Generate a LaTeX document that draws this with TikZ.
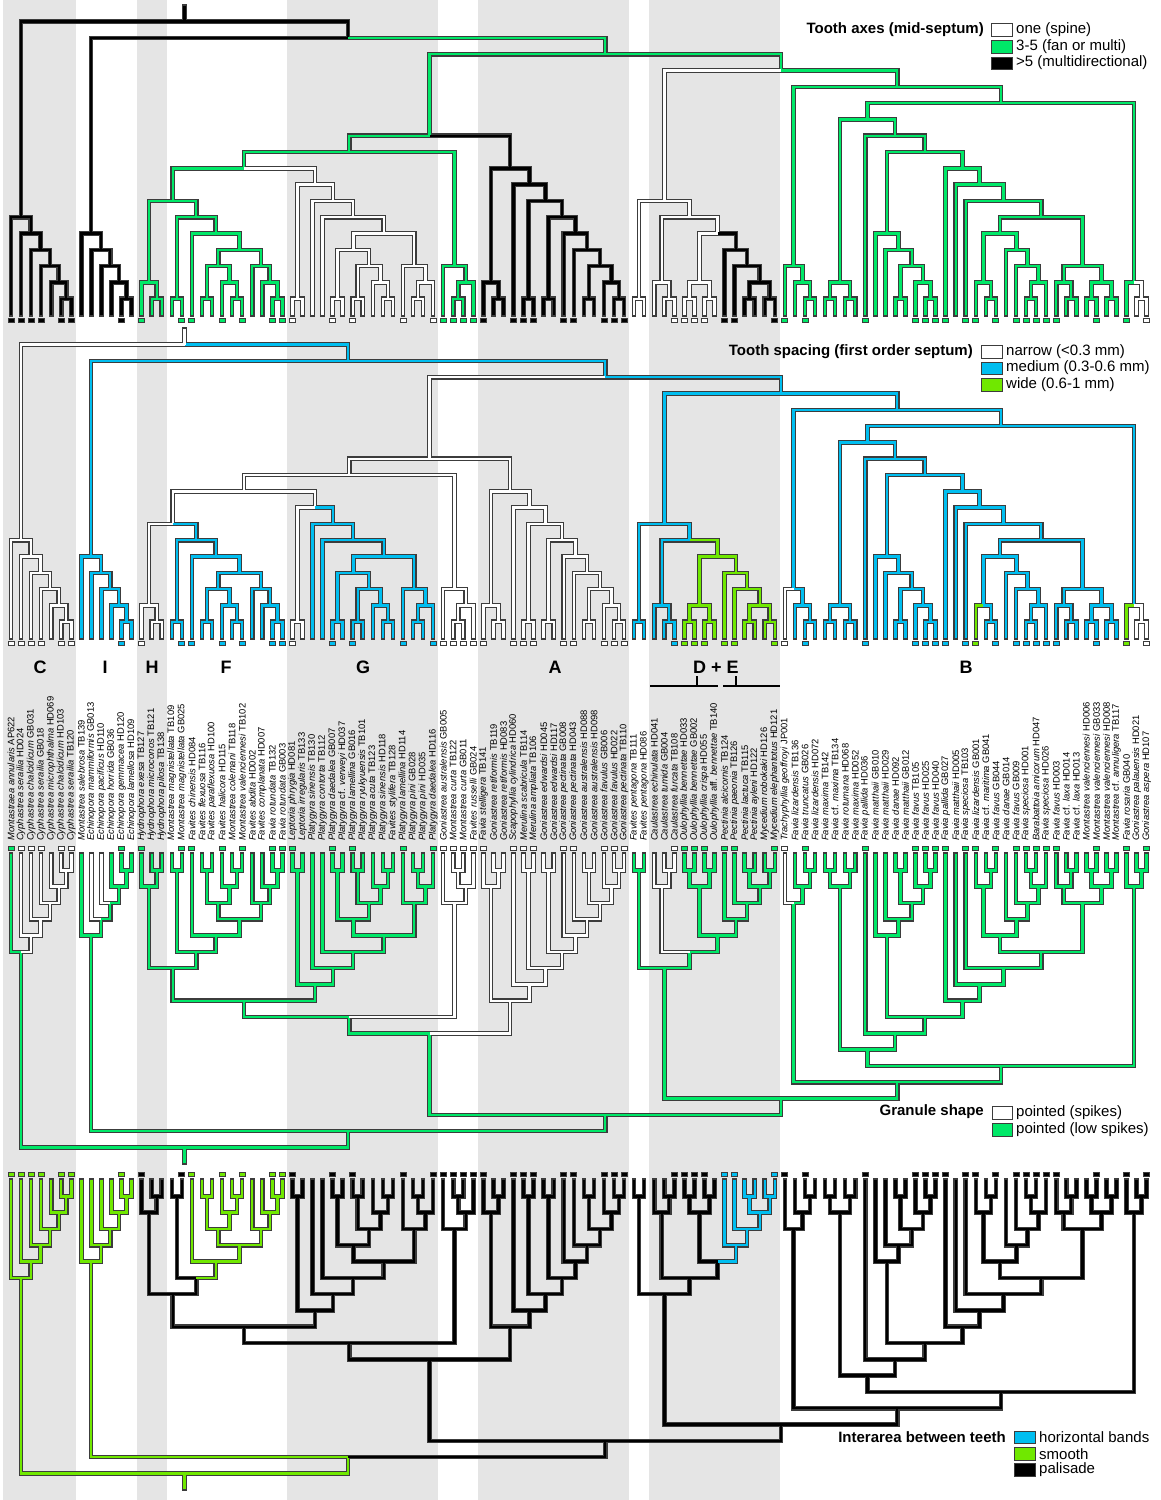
\documentclass[tikz,border=0pt]{standalone}
\usepackage{fontspec}
\setmainfont{Liberation Sans}
\definecolor{grnA}{RGB}{0,232,104}
\definecolor{bluA}{RGB}{0,190,240}
\definecolor{limA}{RGB}{112,232,0}
\definecolor{bandgray}{RGB}{229,229,229}
\definecolor{rimgray}{RGB}{60,60,60}
\colorlet{stw}{white}
\colorlet{stg}{grnA}
\colorlet{stk}{black}
\colorlet{stb}{bluA}
\colorlet{stl}{limA}
\newcommand\tx[2]{\textit{#1} #2}

\def\innerlist{1.9844/6/18.2666/18/k/w/g/l, 2.9688/5/1.9844/6/k/w/w/l, 3.9375/4/2.9688/5/k/w/w/l,
4.875/3/3.9375/4/k/w/w/l, 5.75/2/4.875/3/k/w/w/l, 6.5/1/5.75/2/k/w/w/l,
34.5488/17/18.2666/18/k/b/g/l,
8.9688/5/34.5488/17/k/b/g/l, 9.9375/4/8.9688/5/k/b/g/l, 10.875/3/9.9375/4/k/b/g/l,
11.75/2/10.875/3/k/b/g/l, 12.5/1/11.75/2/k/b/g/l,
60.1289/16/34.5488/17/g/b/g/k,
42.6587/11/60.1289/16/g/w/g/k, 34.6514/10/42.6587/11/g/w/g/k, 24.1777/9/34.6514/10/g/w/g/k,
17.0938/7/24.1777/9/g/w/g/k, 14.75/2/17.0938/7/g/w/g/k, 15.5/1/14.75/2/g/w/g/k,
19.4375/6/17.0938/7/g/b/g/k, 17.5/1/19.4375/6/g/b/g/k, 21.375/5/19.4375/6/g/b/g/l,
23.75/4/21.375/5/g/b/g/l, 21.625/3/23.75/4/g/b/g/l, 20.5/1/21.625/3/g/b/g/l,
22.75/2/21.625/3/g/b/g/l, 23.5/1/22.75/2/g/b/g/l, 25.875/3/23.75/4/g/b/g/l,
26.75/2/25.875/3/g/b/g/l, 27.5/1/26.75/2/g/b/g/l,
31.2617/8/24.1777/9/w/w/g/k, 29.5/1/31.2617/8/w/w/g/k, 33.0234/7/31.2617/8/w/b/g/k,
35.0469/6/33.0234/7/w/b/g/k, 38.0938/5/35.0469/6/w/b/g/k, 35.0625/4/38.0938/5/w/b/g/k,
33.5/1/35.0625/4/w/b/g/k, 36.625/3/35.0625/4/w/b/g/k, 35.5/1/36.625/3/w/b/g/k,
37.75/2/36.625/3/w/b/g/k, 38.5/1/37.75/2/w/b/g/k, 41.125/3/38.0938/5/w/b/g/k,
42.25/2/41.125/3/w/b/g/k, 41.5/1/42.25/2/w/b/g/k,
45.125/3/34.6514/10/g/w/w/k, 46.25/2/45.125/3/g/w/w/k, 45.5/1/46.25/2/g/w/w/k,
50.666/9/42.6587/11/k/w/w/k, 48.75/2/50.666/9/k/w/w/k, 49.5/1/48.75/2/k/w/w/k,
52.582/8/50.666/9/k/w/w/k, 54.1641/7/52.582/8/k/w/w/k, 52.5/1/54.1641/7/k/w/w/k,
55.8281/6/54.1641/7/k/w/w/k, 54.5/1/55.8281/6/k/w/w/k, 57.1563/5/55.8281/6/k/w/w/k,
58.3125/4/57.1563/5/k/w/w/k, 59.625/3/58.3125/4/k/w/w/k, 58.5/1/59.625/3/k/w/w/k,
60.75/2/59.625/3/k/w/w/k, 61.5/1/60.75/2/k/w/w/k,
77.5992/15/60.1289/16/g/b/g/k,
66.0156/7/77.5992/15/w/b/g/k, 63.5/1/66.0156/7/w/b/g/k, 68.5313/6/66.0156/7/w/b/g/k,
65.75/2/68.5313/6/w/b/w/k, 66.5/1/65.75/2/w/b/w/k, 71.3125/5/68.5313/6/w/l/g/k,
69.5/2/71.3125/5/w/l/g/k, 68.5/1/69.5/2/w/l/g/k, 70.5/1/69.5/2/w/l/g/k,
73.125/4/71.3125/5/k/l/g/b, 74.25/3/73.125/4/k/l/g/b, 75.5/2/74.25/3/k/l/g/b,
74.5/1/75.5/2/k/l/g/b, 76.5/1/75.5/2/k/l/g/b,
89.1827/14/77.5992/15/g/b/g/k, 78.875/3/89.1827/14/g/b/g/k, 79.75/2/78.875/3/g/b/g/k,
80.5/1/79.75/2/g/b/g/k, 99.4904/13/89.1827/14/g/b/g/k, 86.2307/12/99.4904/13/g/b/g/k,
83.5/2/86.2307/12/g/b/g/k, 82.5/1/83.5/2/g/b/g/k, 84.5/1/83.5/2/g/b/g/k,
88.9614/11/86.2307/12/g/b/g/k, 91.9229/10/88.9614/11/g/b/g/k, 88.1563/5/91.9229/10/g/b/g/k,
89.3125/4/88.1563/5/g/b/g/k, 90.625/3/89.3125/4/g/b/g/k, 89.5/1/90.625/3/g/b/g/k,
91.75/2/90.625/3/g/b/g/k, 92.5/1/91.75/2/g/b/g/k, 95.6895/9/91.9229/10/g/b/g/k,
97.3789/8/95.6895/9/g/b/g/k, 99.7578/7/97.3789/8/g/b/g/k, 103.5156/6/99.7578/7/g/b/g/k,
99.4063/5/103.5156/6/g/b/g/k, 97.75/2/99.4063/5/g/b/g/k, 98.5/1/97.75/2/g/b/g/k,
101.0625/4/99.4063/5/g/b/g/k, 102.125/3/101.0625/4/g/b/g/k, 103.25/2/102.125/3/g/b/g/k,
102.5/1/103.25/2/g/b/g/k, 107.625/3/103.5156/6/g/b/g/k, 105.75/2/107.625/3/g/b/g/k,
106.5/1/105.75/2/g/b/g/k, 109.5/2/107.625/3/g/b/g/k, 108.5/1/109.5/2/g/b/g/k,
110.5/1/109.5/2/g/b/g/k, 112.75/2/99.4904/13/g/b/g/k, 113.5/1/112.75/2/w/w/g/k}

\def\leaflist{1/1.9844/6/1/k/w/g/l, 2/2.9688/5/1/k/w/w/l, 3/3.9375/4/1/k/w/w/l, 4/4.875/3/1/k/w/w/l,
5/5.75/2/0/k/w/w/l, 6/6.5/1/1/k/w/w/l, 7/6.5/1/1/k/w/w/l,
8/8.9688/5/0/k/b/g/l, 9/9.9375/4/0/k/b/w/l, 10/10.875/3/0/k/b/w/l, 11/11.75/2/0/k/b/g/l,
12/12.5/1/1/k/b/g/l, 13/12.5/1/0/k/b/g/l,
14/14.75/2/1/g/w/g/k, 15/15.5/1/0/g/w/g/k, 16/15.5/1/0/g/w/g/k,
17/17.5/1/0/g/b/g/k, 18/17.5/1/1/g/b/g/k, 19/21.375/5/1/g/b/g/l, 20/20.5/1/0/g/b/g/l,
21/20.5/1/0/g/b/g/l, 22/22.75/2/1/g/b/g/l, 23/23.5/1/0/g/b/g/l, 24/23.5/1/1/g/b/g/l,
25/25.875/3/0/g/b/g/l, 26/26.75/2/0/g/b/g/l, 27/27.5/1/1/g/b/g/l, 28/27.5/1/1/g/b/g/l,
29/29.5/1/1/w/w/g/k, 30/29.5/1/0/w/w/g/k, 31/33.0234/7/0/w/b/g/k, 32/35.0469/6/0/w/b/g/k,
33/33.5/1/1/w/b/g/k, 34/33.5/1/0/w/b/g/k, 35/35.5/1/1/w/b/g/k, 36/35.5/1/0/w/b/g/k,
37/37.75/2/0/w/b/g/k, 38/38.5/1/0/w/b/g/k, 39/38.5/1/0/w/b/g/k, 40/41.125/3/1/w/b/g/k,
41/41.5/1/0/w/b/g/k, 42/41.5/1/0/w/b/g/k, 43/42.25/2/1/w/b/g/k,
44/45.125/3/1/g/w/w/k, 45/45.5/1/1/g/w/w/k, 46/45.5/1/1/g/w/w/k, 47/46.25/2/1/g/w/w/k,
48/48.75/2/1/k/w/w/k, 49/49.5/1/0/k/w/w/k, 50/49.5/1/0/k/w/w/k, 51/52.582/8/1/k/w/w/k,
52/52.5/1/1/k/w/w/k, 53/52.5/1/1/k/w/w/k, 54/54.5/1/0/k/w/w/k, 55/54.5/1/0/k/w/w/k,
56/57.1563/5/1/k/w/w/k, 57/58.3125/4/1/k/w/w/k, 58/58.5/1/0/k/w/w/k, 59/58.5/1/0/k/w/w/k,
60/60.75/2/1/k/w/w/k, 61/61.5/1/1/k/w/w/k, 62/61.5/1/1/k/w/w/k,
63/63.5/1/0/w/b/g/k, 64/63.5/1/0/w/b/g/k, 65/65.75/2/0/w/b/w/k, 66/66.5/1/0/w/b/w/k,
67/66.5/1/1/w/b/w/k, 68/68.5/1/1/w/l/g/k, 69/68.5/1/1/w/l/g/k, 70/70.5/1/1/w/l/g/k,
71/70.5/1/0/w/l/g/k, 72/73.125/4/1/k/l/g/b, 73/74.25/3/1/k/l/g/b, 74/74.5/1/0/k/l/g/b,
75/74.5/1/0/k/l/g/b, 76/76.5/1/0/k/l/g/b, 77/76.5/1/1/k/l/g/b,
78/78.875/3/1/g/w/w/k, 79/79.75/2/0/g/b/g/k, 80/80.5/1/1/g/b/g/k, 81/80.5/1/0/g/b/g/k,
82/82.5/1/0/g/b/g/k, 83/82.5/1/0/g/b/g/k, 84/84.5/1/0/g/b/g/k, 85/84.5/1/0/g/b/g/k,
86/88.9614/11/1/g/b/g/k, 87/88.1563/5/0/g/b/g/k, 88/89.3125/4/0/g/b/g/k, 89/89.5/1/0/g/b/g/k,
90/89.5/1/0/g/b/g/k, 91/91.75/2/1/g/b/g/k, 92/92.5/1/1/g/b/g/k, 93/92.5/1/1/g/b/g/k,
94/95.6895/9/1/g/b/g/k, 95/97.3789/8/0/g/b/g/k, 96/99.7578/7/1/g/b/g/k, 97/97.75/2/1/g/l/g/k,
98/98.5/1/0/g/b/g/k, 99/98.5/1/1/g/b/g/k, 100/101.0625/4/0/g/b/g/k, 101/102.125/3/1/g/b/g/k,
102/102.5/1/1/g/b/g/k, 103/102.5/1/1/g/b/g/k, 104/103.25/2/1/g/b/g/k, 105/105.75/2/1/g/b/g/k,
106/106.5/1/0/g/b/g/k, 107/106.5/1/0/g/b/g/k, 108/108.5/1/0/g/b/g/k, 109/108.5/1/1/g/b/g/k,
110/110.5/1/0/g/b/g/k, 111/110.5/1/0/g/b/g/k, 112/112.75/2/1/g/l/g/k,
113/113.5/1/0/w/w/g/k, 114/113.5/1/1/w/w/g/k}

\def\taxa{{\tx{Montastraea annularis}{AP622}},{\tx{Cyphastrea serailia}{HD024}},{\tx{Cyphastrea chalcidicum}{GB031}},
{\tx{Cyphastrea serailia}{GB018}},{\tx{Cyphastrea microphthalma}{HD069}},{\tx{Cyphastrea chalcidicum}{HD103}},
{\tx{Cyphastrea serailia}{TB120}},{\tx{Montastrea salebrosa}{TB139}},{\tx{Echinopora mammiformis}{GB013}},
{\tx{Echinopora pacificus}{HD110}},{\tx{Echinopora horrida}{GB036}},{\tx{Echinopora gemmacea}{HD120}},
{\tx{Echinopora lamellosa}{HD109}},{\tx{Hydnophora exesa}{TB127}},{\tx{Hydnophora microconos}{TB121}},
{\tx{Hydnophora pilosa}{TB138}},{\tx{Montastrea magnistellata}{TB109}},{\tx{Montastrea magnistellata}{GB025}},
{\tx{Favites chinensis}{HD084}},{\tx{Favites flexuosa}{TB116}},{\tx{Favites paraflexuosa}{HD100}},
{\tx{Favites halicora}{HD115}},{\tx{Montastrea colemani}{TB118}},{\tx{Montastrea valenciennesi}{TB102}},
{\tx{Favites abdita}{HD002}},{\tx{Favites complanata}{HD007}},{\tx{Favia rotundata}{TB132}},
{\tx{Favia rotundata}{GB003}},{\tx{Leptoria phrygia}{HD081}},{\tx{Leptoria irregularis}{TB133}},
{\tx{Platygyra sinensis}{TB130}},{\tx{Platygyra contorta}{TB112}},{\tx{Platygyra daedalea}{GB007}},
{\tx{Platygyra \textup{cf.} verweyi}{HD037}},{\tx{Platygyra lamellina}{GB016}},{\tx{Platygyra ryukyuensis}{TB101}},
{\tx{Platygyra acuta}{TB123}},{\tx{Platygyra sinensis}{HD118}},{\tx{Favites stylifera}{TB128}},
{\tx{Platygyra lamellina}{HD114}},{\tx{Platygyra pini}{GB028}},{\tx{Platygyra pini}{HD035}},
{\tx{Platygyra daedalea}{HD116}},{\tx{Goniastrea australensis}{GB005}},{\tx{Montastrea curta}{TB122}},
{\tx{Montastrea curta}{GB011}},{\tx{Favites russelli}{GB024}},{\tx{Favia stelligera}{TB141}},
{\tx{Goniastrea retiformis}{TB119}},{\tx{Goniastrea retiformis}{HD083}},{\tx{Scapophyllia cylindrica}{HD060}},
{\tx{Merulina scabricula}{TB114}},{\tx{Merulina ampliata}{TB106}},{\tx{Goniastrea edwardsi}{HD045}},
{\tx{Goniastrea edwardsi}{HD117}},{\tx{Goniastrea pectinata}{GB008}},{\tx{Goniastrea pectinata}{HD043}},
{\tx{Goniastrea australensis}{HD088}},{\tx{Goniastrea australensis}{HD098}},{\tx{Goniastrea favulus}{GB006}},
{\tx{Goniastrea favulus}{HD022}},{\tx{Goniastrea pectinata}{TB110}},{\tx{Favites pentagona}{TB111}},
{\tx{Favites pentagona}{HD086}},{\tx{Caulastrea echinulata}{HD041}},{\tx{Caulastrea tumida}{GB004}},
{\tx{Caulastrea furcata}{TB108}},{\tx{Oulophyllia bennettae}{HD033}},{\tx{Oulophyllia bennettae}{GB002}},
{\tx{Oulophyllia crispa}{HD055}},{\tx{Oulophyllia \textup{aff.} bennettae}{TB140}},{\tx{Pectinia alcicornis}{TB124}},
{\tx{Pectinia paeonia}{TB126}},{\tx{Pectinia lactuca}{TB115}},{\tx{Pectinia ayleni}{HD122}},
{\tx{Mycedium robokaki}{HD126}},{\tx{Mycedium elephantotus}{HD121}},{\tx{Trachyphyllia geoffroyi}{JP001}},
{\tx{Favia lizardensis}{TB136}},{\tx{Favia truncatus}{GB026}},{\tx{Favia lizardensis}{HD072}},
{\tx{Favia maxima}{TB142}},{\tx{Favia \textup{cf.} maxima}{TB134}},{\tx{Favia rotumana}{HD068}},
{\tx{Favia maxima}{HD052}},{\tx{Favia pallida}{HD036}},{\tx{Favia matthaii}{GB010}},
{\tx{Favia matthaii}{HD029}},{\tx{Favia danae}{HD092}},{\tx{Favia matthaii}{GB012}},
{\tx{Favia favus}{TB105}},{\tx{Favia favus}{HD025}},{\tx{Favia favus}{HD040}},
{\tx{Favia pallida}{GB027}},{\tx{Favia matthaii}{HD005}},{\tx{Favia speciosa}{TB103}},
{\tx{Favia lizardensis}{GB001}},{\tx{Favia \textup{cf.} maritima}{GB041}},{\tx{Favia favus}{GB044}},
{\tx{Favia danae}{GB014}},{\tx{Favia favus}{GB009}},{\tx{Favia speciosa}{HD001}},
{\tx{Barabattoia amicorum}{HD047}},{\tx{Favia speciosa}{HD026}},{\tx{Favia favus}{HD003}},
{\tx{Favia \textup{cf.} laxa}{HD014}},{\tx{Favia \textup{cf.} laxa}{HD013}},{\tx{Montastrea valenciennesi}{HD006}},
{\tx{Montastrea valenciennesi}{GB033}},{\tx{Montastrea valenciennesi}{HD008}},{\tx{Montastrea \textup{cf.} annuligera}{TB117}},
{\tx{Favia rosaria}{GB040}},{\tx{Goniastrea palauensis}{HD021}},{\tx{Goniastrea aspera}{HD107}}}

\newcommand\drawtree[3]{%
\begin{scope}[#3]
\foreach \cx/\ch/\px/\ph/\qa/\qb/\qc/\qd in \innerlist {\draw[rim] (\cx,\ch) |- (\px,\ph);}
\foreach \i/\px/\ph/\bx/\qa/\qb/\qc/\qd in \leaflist {\draw[rim] (\i,0) |- (\px,\ph);}
\draw[rim] (18.2666,18) -- (18.2666,18.95);
\foreach \cx/\ch/\px/\ph/\qa/\qb/\qc/\qd in \innerlist {%
  \ifcase#1\or\edef\st{st\qa}\or\edef\st{st\qb}\or\edef\st{st\qc}\or\edef\st{st\qd}\fi
  \draw[core, draw=\st] (\cx,\ch) |- (\px,\ph);}
\foreach \i/\px/\ph/\bx/\qa/\qb/\qc/\qd in \leaflist {%
  \ifcase#1\or\edef\st{st\qa}\or\edef\st{st\qb}\or\edef\st{st\qc}\or\edef\st{st\qd}\fi
  \draw[core, draw=\st] (\i,0) |- (\px,\ph);
  \ifnum\bx=1 \draw[tipbox, fill=\st] (\i,-0.34) ++(-3pt,-2.3pt) rectangle ++(6pt,4.6pt);\fi}
\draw[core, draw=st#2] (18.2666,18) -- (18.2666,18.95);
\end{scope}}

\begin{document}
\begin{tikzpicture}[x=1pt,y=-1pt,line join=miter]
\tikzset{rim/.style={draw=rimgray,line width=4.6pt,line cap=rect},
  core/.style={line width=2.4pt},
  tipbox/.style={draw=rimgray,line width=0.9pt},
  taxon/.style={rotate=90,anchor=west,inner sep=0pt,font=\fontsize{9.4}{10}\selectfont},
  clade/.style={inner sep=0pt,font=\fontsize{18}{18}\selectfont\bfseries},
  legbox/.style={draw=rimgray,line width=1pt},
  legtxt/.style={anchor=west,inner sep=0pt,font=\fontsize{15}{17}\selectfont},
  leghead/.style={anchor=east,inner sep=0pt,font=\fontsize{15}{17}\selectfont\bfseries}}
\useasboundingbox (0,0) rectangle (1160,1500);
\fill[white] (0,0) rectangle (1160,1500);
\foreach \a/\b in {3/76.3,136.6/166.8,287.4/438.1,478.4/629.1,649.2/779.8}
  \fill[bandgray] (\a,0) rectangle (\b,1500);

\drawtree{1}{k}{shift={(0.95,315)},x=10.05pt,y=16.3pt}
\drawtree{2}{w}{shift={(0.95,638)},x=10.05pt,y=16.3pt}
\drawtree{3}{g}{shift={(0.95,854)},x=10.05pt,y=-16.3pt}
\drawtree{4}{l}{shift={(0.95,1180)},x=10.05pt,y=-16.3pt}

\foreach \lab [count=\n] in \taxa
  \node[taxon] (t\n) at ({11+(\n-1)*10.05},841) {\lab};

\node[clade] (cC) at (40,667) {C};
\node[clade] (cI) at (105,667) {I};
\node[clade] (cH) at (152,667) {H};
\node[clade] (cF) at (226,667) {F};
\node[clade] (cG) at (363,667) {G};
\node[clade] (cA) at (555,667) {A};
\node[clade] (cDE) at (716,667) {D + E};
\node[clade] (cB) at (966,667) {B};
\draw[line width=1.8pt] (650,686) -- (718,686) (697,676) -- (697,686)
  (723,686) -- (780,686) (736,676) -- (736,686);

\node[leghead] (axhead) at (984,30) {Tooth axes (mid-septum)};
\draw[legbox,fill=white] (991,23) rectangle (1012,36);
\draw[legbox,fill=grnA] (991,40) rectangle (1012,53);
\draw[legbox,fill=black] (991,57) rectangle (1012,69);
\node[legtxt] (ax1) at (1016,30) {one (spine)};
\node[legtxt] (ax2) at (1016,46.5) {3-5 (fan or multi)};
\node[legtxt] (ax3) at (1016,63) {>5 (multidirectional)};

\node[leghead] (sphead) at (973,352) {Tooth spacing (first order septum)};
\draw[legbox,fill=white] (981,345) rectangle (1002,358);
\draw[legbox,fill=bluA] (981,362) rectangle (1002,374);
\draw[legbox,fill=limA] (981,378) rectangle (1002,391);
\node[legtxt] (sp1) at (1006,352) {narrow (<0.3 mm)};
\node[legtxt] (sp2) at (1006,368) {medium (0.3-0.6 mm)};
\node[legtxt] (sp3) at (1006,384.5) {wide (0.6-1 mm)};

\node[leghead] (grhead) at (984,1112) {Granule shape};
\draw[legbox,fill=white] (992,1106) rectangle (1012,1119);
\draw[legbox,fill=grnA] (992,1123) rectangle (1012,1136);
\node[legtxt] (gr1) at (1016,1113) {pointed (spikes)};
\node[legtxt] (gr2) at (1016,1129.5) {pointed (low spikes)};

\node[leghead] (iahead) at (1006,1437) {Interarea between teeth};
\draw[legbox,fill=bluA] (1014,1431) rectangle (1035,1443);
\draw[legbox,fill=limA] (1014,1447) rectangle (1035,1460);
\draw[legbox,fill=black] (1014,1463) rectangle (1035,1476);
\node[legtxt] (ia1) at (1039,1437.5) {horizontal bands};
\node[legtxt] (ia2) at (1039,1454) {smooth};
\node[legtxt] (ia3) at (1039,1470) {palisade};
\end{tikzpicture}
\end{document}
